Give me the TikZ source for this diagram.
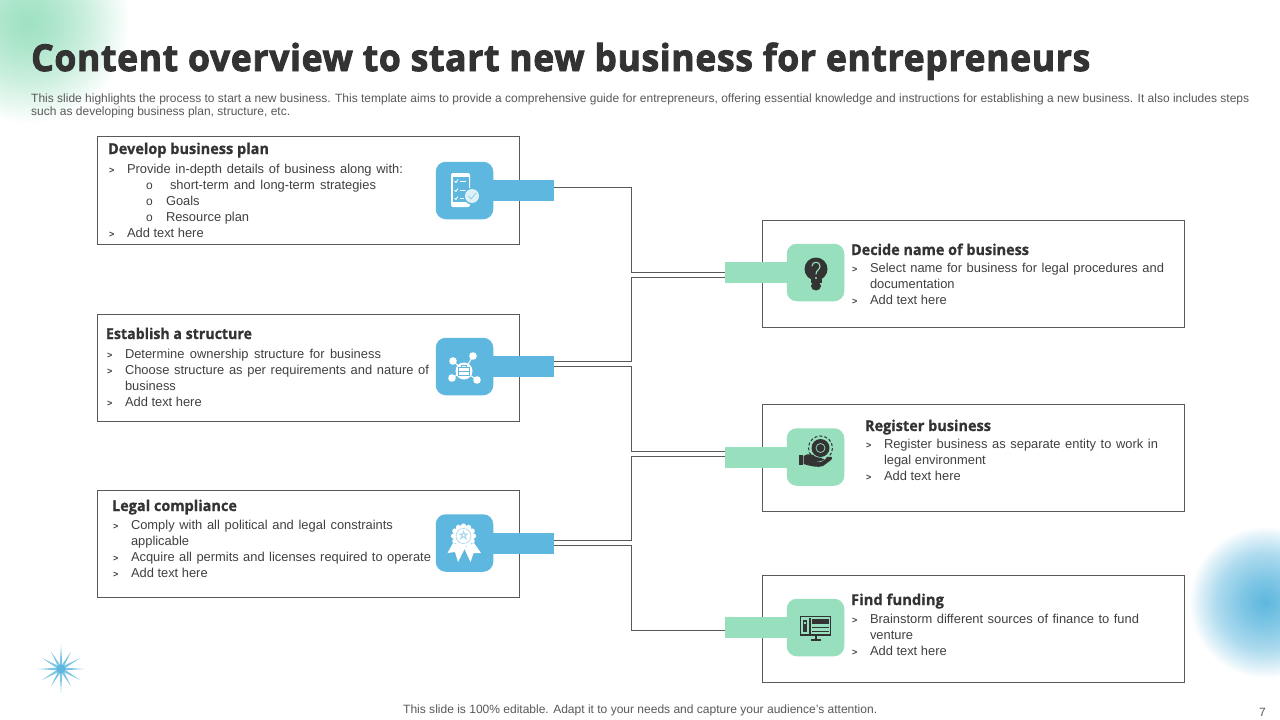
\documentclass[tikz,border=0pt]{standalone}
\usepackage{graphicx}
\usepackage{fontspec}
\setmainfont{Liberation Sans}
\newfontfamily\headfont[BoldFont={Open Sans Bold},BoldFeatures={FakeBold=0.7}]{Open Sans}
\newfontfamily\titlefont[BoldFont={Open Sans Bold},BoldFeatures={FakeBold=2.6,LetterSpace=2}]{Open Sans}
\usetikzlibrary{calc}
\definecolor{bluec}{HTML}{5DB7DE}
\definecolor{greenc}{HTML}{97DFBD}
\definecolor{inkc}{HTML}{333333}
\definecolor{bodyc}{HTML}{404040}
\definecolor{subc}{HTML}{595959}
\definecolor{framec}{HTML}{595959}
\pgfdeclareradialshading{glowgreen}{\pgfpointorigin}{color(0bp)=(greenc!92!white);color(6bp)=(greenc!80!white);color(14bp)=(greenc!52!white);color(20bp)=(greenc!24!white);color(25bp)=(white);color(50bp)=(white)}
\pgfdeclareradialshading{glowblue}{\pgfpointorigin}{color(0bp)=(bluec);color(8bp)=(bluec!78!white);color(16bp)=(bluec!50!white);color(22bp)=(bluec!18!white);color(25bp)=(white);color(50bp)=(white)}
\tikzset{
  textbox/.style={draw=framec,line width=1.1pt,fill=white,minimum width=422pt,inner sep=0pt,anchor=north west},
  iconblue/.style={fill=bluec,rounded corners=10pt,minimum width=57.5pt,minimum height=57.5pt,inner sep=0pt},
  icongreen/.style={fill=greenc,rounded corners=10pt,minimum width=57.5pt,minimum height=57.5pt,inner sep=0pt},
  tabblue/.style={fill=bluec,minimum width=61pt,minimum height=21pt,inner sep=0pt},
  tabgreen/.style={fill=greenc,minimum width=62pt,minimum height=21pt,inner sep=0pt},
  conn/.style={draw=framec,line width=1pt},
  txt/.style={anchor=base west,inner sep=0pt,outer sep=0pt,text=bodyc,font=\fontsize{12.9}{16}\selectfont},
  head/.style={anchor=base west,inner sep=0pt,outer sep=0pt,text=inkc,font=\fontsize{15}{18}\selectfont\headfont\bfseries},
  chev/.style={anchor=base west,inner sep=0pt,outer sep=0pt,text=bodyc,font=\fontsize{9}{10}\selectfont\bfseries},
  subb/.style={anchor=base west,inner sep=0pt,outer sep=0pt,text=bodyc,font=\fontsize{12}{14}\selectfont}
}
\newcommand{\fitw}[2]{\resizebox{#1pt}{\height}{#2}}
\newcommand{\just}[2]{\makebox[#1pt][s]{#2}}
\begin{document}
\begin{tikzpicture}[x=1pt,y=-1pt]
\useasboundingbox (0,0) rectangle (1280,720);
\fill[white] (0,0) rectangle (1280,720);
% glows
\begin{scope}
\clip (0,0) rectangle (1280,720);
\fill[shading=glowgreen] (-74,-80) rectangle (130,124);
\fill[shading=glowblue] (1189,526) rectangle (1341,678);
\end{scope}
% star
\begin{scope}[shift={(61,669)}]
\foreach \a/\l in {0/23,30/22,60/20,90/24,120/20,150/22,180/23,210/22,240/20,270/24,300/20,330/22}{
  \fill[bluec!80!white,rotate=\a] (0,-1.6) -- (\l,0) -- (0,1.6) -- cycle;
}
\fill[bluec] (0,0) circle (4.5);
\end{scope}
% title
\node[anchor=base west,inner sep=0pt,text=inkc,font=\fontsize{37}{44}\selectfont\titlefont\bfseries] (title) at (31,71) {\fitw{1059}{Content overview to start new business for entrepreneurs}};
\node[anchor=base west,inner sep=0pt,text=subc,font=\fontsize{12}{14}\selectfont] (sub1) at (31,102) {\fitw{1218}{This slide highlights the process to start a new business. This template aims to provide a comprehensive guide for entrepreneurs, offering essential knowledge and instructions for establishing a new business. It also includes steps}};
\node[anchor=base west,inner sep=0pt,text=subc,font=\fontsize{12}{14}\selectfont] (sub2) at (31,115) {\fitw{259}{such as developing business plan, structure, etc.}};
% boxes
\node[textbox,minimum height=108pt] (b1) at (96.5,136) {};
\node[textbox,minimum height=107.5pt] (b2) at (96.5,313.5) {};
\node[textbox,minimum height=107.5pt] (b3) at (96.5,489.5) {};
\node[textbox,minimum height=107.5pt] (b4) at (761.5,219.5) {};
\node[textbox,minimum height=107.5pt] (b5) at (761.5,403.5) {};
\node[textbox,minimum height=107.5pt] (b6) at (761.5,574.5) {};
% tabs
\node[tabblue] (t1) at (523.5,190.5) {};
\node[tabblue] (t2) at (523.5,366) {};
\node[tabblue] (t3) at (523.5,543) {};
\node[tabgreen] (t4) at (756,272.5) {};
\node[tabgreen] (t5) at (756,457) {};
\node[tabgreen] (t6) at (756,627.5) {};
% connectors
\coordinate (busA) at (631.5,230);
\coordinate (busB) at (631.5,320);
\coordinate (busC) at (631.5,410);
\coordinate (busD) at (631.5,500);
\coordinate (busE) at (631.5,590);
\draw[conn] ([yshift=3.5pt]t1.east) -| (busA) |- ([yshift=0.5pt]t4.west);
\draw[conn] ([yshift=5pt]t2.east) -| (busB) |- ([yshift=-4.5pt]t4.west);
\draw[conn] ([yshift=0pt]t2.east) -| (busC) |- ([yshift=6pt]t5.west);
\draw[conn] ([yshift=3pt]t3.east) -| (busD) |- ([yshift=1pt]t5.west);
\draw[conn] ([yshift=-2pt]t3.east) -| (busE) |- ([yshift=-2.5pt]t6.west);
% icon tiles
\node[iconblue] (i1) at (464.5,190.5) {};
\node[iconblue] (i2) at (464.5,366.5) {};
\node[iconblue] (i3) at (464.5,543) {};
\node[icongreen] (i4) at (815.5,272.5) {};
\node[icongreen] (i5) at (815.5,457) {};
\node[icongreen] (i6) at (815.5,627.5) {};
% icon 1: phone with badge
\fill[white,rounded corners=2pt] (451,173) rectangle (470,207);
\fill[bluec] (452.5,177) rectangle (468.5,202);
\foreach \y in {181,190,198}{
  \draw[white,line width=.9pt] (454.5,\y) -- (456,\y+1.5) -- (458,\y-1.5);
  \draw[white,line width=.7pt] (459.5,\y) -- (466,\y);
}
\fill[bluec] (472,196) circle (8.5);
\fill[white!80!bluec] (472,196) circle (7);
\draw[bluec!70!white,line width=.8pt] (468.5,196) -- (471,199) -- (476,193);
% icon 2: network
\draw[white,line width=1pt] (464,371) -- (453,361) (464,371) -- (473,356) (464,371) -- (452,378) (464,371) -- (477,380);
\fill[white] (464,371) circle (8.5);
\foreach \x/\y in {453/361,473/356,452/378,477/380}{\fill[white] (\x,\y) circle (3.8);}
\draw[bluec,line width=.7pt] (458.5,367) rectangle (469.5,375) (461.5,367) -- (461.5,365) -- (466.5,365) -- (466.5,367) (458.5,371) -- (469.5,371);
% icon 3: award
\fill[white] (453,543) -- (447.5,553) -- (455,552) -- (458,562) -- (465,548) -- cycle;
\fill[white] (474,543) -- (481,553) -- (473.5,553) -- (470.5,562) -- (464,548) -- cycle;
\foreach \a in {0,30,...,330}{\fill[white] ($(463.5,536)+(\a:10)$) circle (2.6);}
\fill[white] (463.5,536) circle (10.5);
\draw[bluec!60!white,line width=.6pt] (463.5,536) circle (7.5);
\draw[bluec!60!white,line width=.6pt] (463.5,531) -- (466.5,539) -- (459.5,534) -- (467.5,534) -- (460.5,539) -- cycle;
% icon 4: bulb
\fill[inkc] (816,269) circle (11.5);
\fill[inkc] (810.5,277) rectangle (821.5,283);
\fill[inkc] (816,286) ellipse (5 and 4.5);
\draw[greenc,line width=1.1pt,line cap=round] (812,266) .. controls (812,261) and (820,261) .. (820,266) .. controls (820,270) and (816,270) .. (816,274);
\fill[greenc] (816,278) circle (1.2);
% icon 5: hand with globe
\draw[inkc,line width=1pt,densely dashed] (820.5,448) circle (12);
\fill[inkc] (820.5,448) circle (9);
\draw[greenc,line width=.7pt] (820.5,448) circle (4.5);
\fill[inkc] (799,455) rectangle (802.5,465);
\fill[inkc] (803.5,456) .. controls (808,453) and (813,454) .. (816,457) -- (822,458) .. controls (824,459) and (823,461) .. (820,461) -- (813,461) -- (821,462) -- (829,457) .. controls (832,456) and (833,458) .. (831,460) -- (823,466) .. controls (818,468) and (810,466) .. (803.5,464) -- cycle;
% icon 6: monitor
\draw[inkc,line width=1.3pt] (800.5,616.5) rectangle (830.5,635);
\fill[inkc] (811,618) -- (811,633.5) -- (809,633.5) -- (809,618) -- cycle;
\fill[inkc] (803,620) rectangle (807,632);
\fill[greenc] (804,622) rectangle (806,624);
\fill[inkc] (812,619) rectangle (829,624);
\draw[inkc,line width=1pt] (812,627) -- (829,627) (812,631) -- (829,631);
\fill[inkc] (814.5,635) rectangle (816.5,640);
\fill[inkc] (811,639) rectangle (821,641);
% box 1 text
\node[head] (h1) at (108,154) {\fitw{161}{Develop business plan}};
\node[chev] (c11) at (109,173) {>};
\node[txt] (l11) at (127,173) {\just{276}{Provide  in-depth details of business along with:}};
\node[subb] (o11) at (146,189) {o};
\node[txt] (l12) at (170,189) {\just{206}{short-term and long-term strategies}};
\node[subb] (o12) at (146,205) {o};
\node[txt] (l13) at (166,205) {Goals};
\node[subb] (o13) at (146,221) {o};
\node[txt] (l14) at (166,221) {Resource plan};
\node[chev] (c12) at (109,237) {>};
\node[txt] (l15) at (127,237) {Add text here};
% box 2 text
\node[head] (h2) at (106,339) {\fitw{146}{Establish a structure}};
\node[chev] (c21) at (107,358) {>};
\node[txt] (l21) at (125,358) {\just{256}{Determine ownership structure for business}};
\node[chev] (c22) at (107,374) {>};
\node[txt] (l22) at (125,374) {\just{304}{Choose structure as per requirements and nature of}};
\node[txt] (l23) at (125,390) {business};
\node[chev] (c23) at (107,406) {>};
\node[txt] (l24) at (125,406) {Add text here};
% box 3 text
\node[head] (h3) at (112,511) {\fitw{125}{Legal compliance}};
\node[chev] (c31) at (113,529) {>};
\node[txt] (l31) at (131,529) {\just{262}{Comply with all political and legal constraints}};
\node[txt] (l32) at (131,545) {applicable};
\node[chev] (c32) at (113,561) {>};
\node[txt] (l33) at (131,561) {\just{300}{Acquire all permits and licenses required to operate}};
\node[chev] (c33) at (113,577) {>};
\node[txt] (l34) at (131,577) {Add text here};
% box 4 text
\node[head] (h4) at (851,255) {\fitw{178}{Decide name of business}};
\node[chev] (c41) at (852,272) {>};
\node[txt] (l41) at (870,272) {\just{294}{Select name for business for legal procedures and}};
\node[txt] (l42) at (870,288) {documentation};
\node[chev] (c42) at (852,304) {>};
\node[txt] (l43) at (870,304) {Add text here};
% box 5 text
\node[head] (h5) at (865,431) {\fitw{126}{Register business}};
\node[chev] (c51) at (866,448) {>};
\node[txt] (l51) at (884,448) {\just{274}{Register business as separate entity to work in}};
\node[txt] (l52) at (884,464) {legal environment};
\node[chev] (c52) at (866,480) {>};
\node[txt] (l53) at (884,480) {Add text here};
% box 6 text
\node[head] (h6) at (851,605) {\fitw{93}{Find funding}};
\node[chev] (c61) at (852,623) {>};
\node[txt] (l61) at (870,623) {\just{269}{Brainstorm different sources of finance to fund}};
\node[txt] (l62) at (870,639) {venture};
\node[chev] (c62) at (852,655) {>};
\node[txt] (l63) at (870,655) {Add text here};
% footer
\node[anchor=base west,inner sep=0pt,text=subc,font=\fontsize{12}{14}\selectfont] (foot) at (403,713) {\fitw{474}{This slide is 100\% editable. Adapt it to your needs and capture your audience's attention.}};
\node[anchor=base west,inner sep=0pt,text=subc,font=\fontsize{12}{14}\selectfont] (pageno) at (1259,716) {7};
\end{tikzpicture}
\end{document}
